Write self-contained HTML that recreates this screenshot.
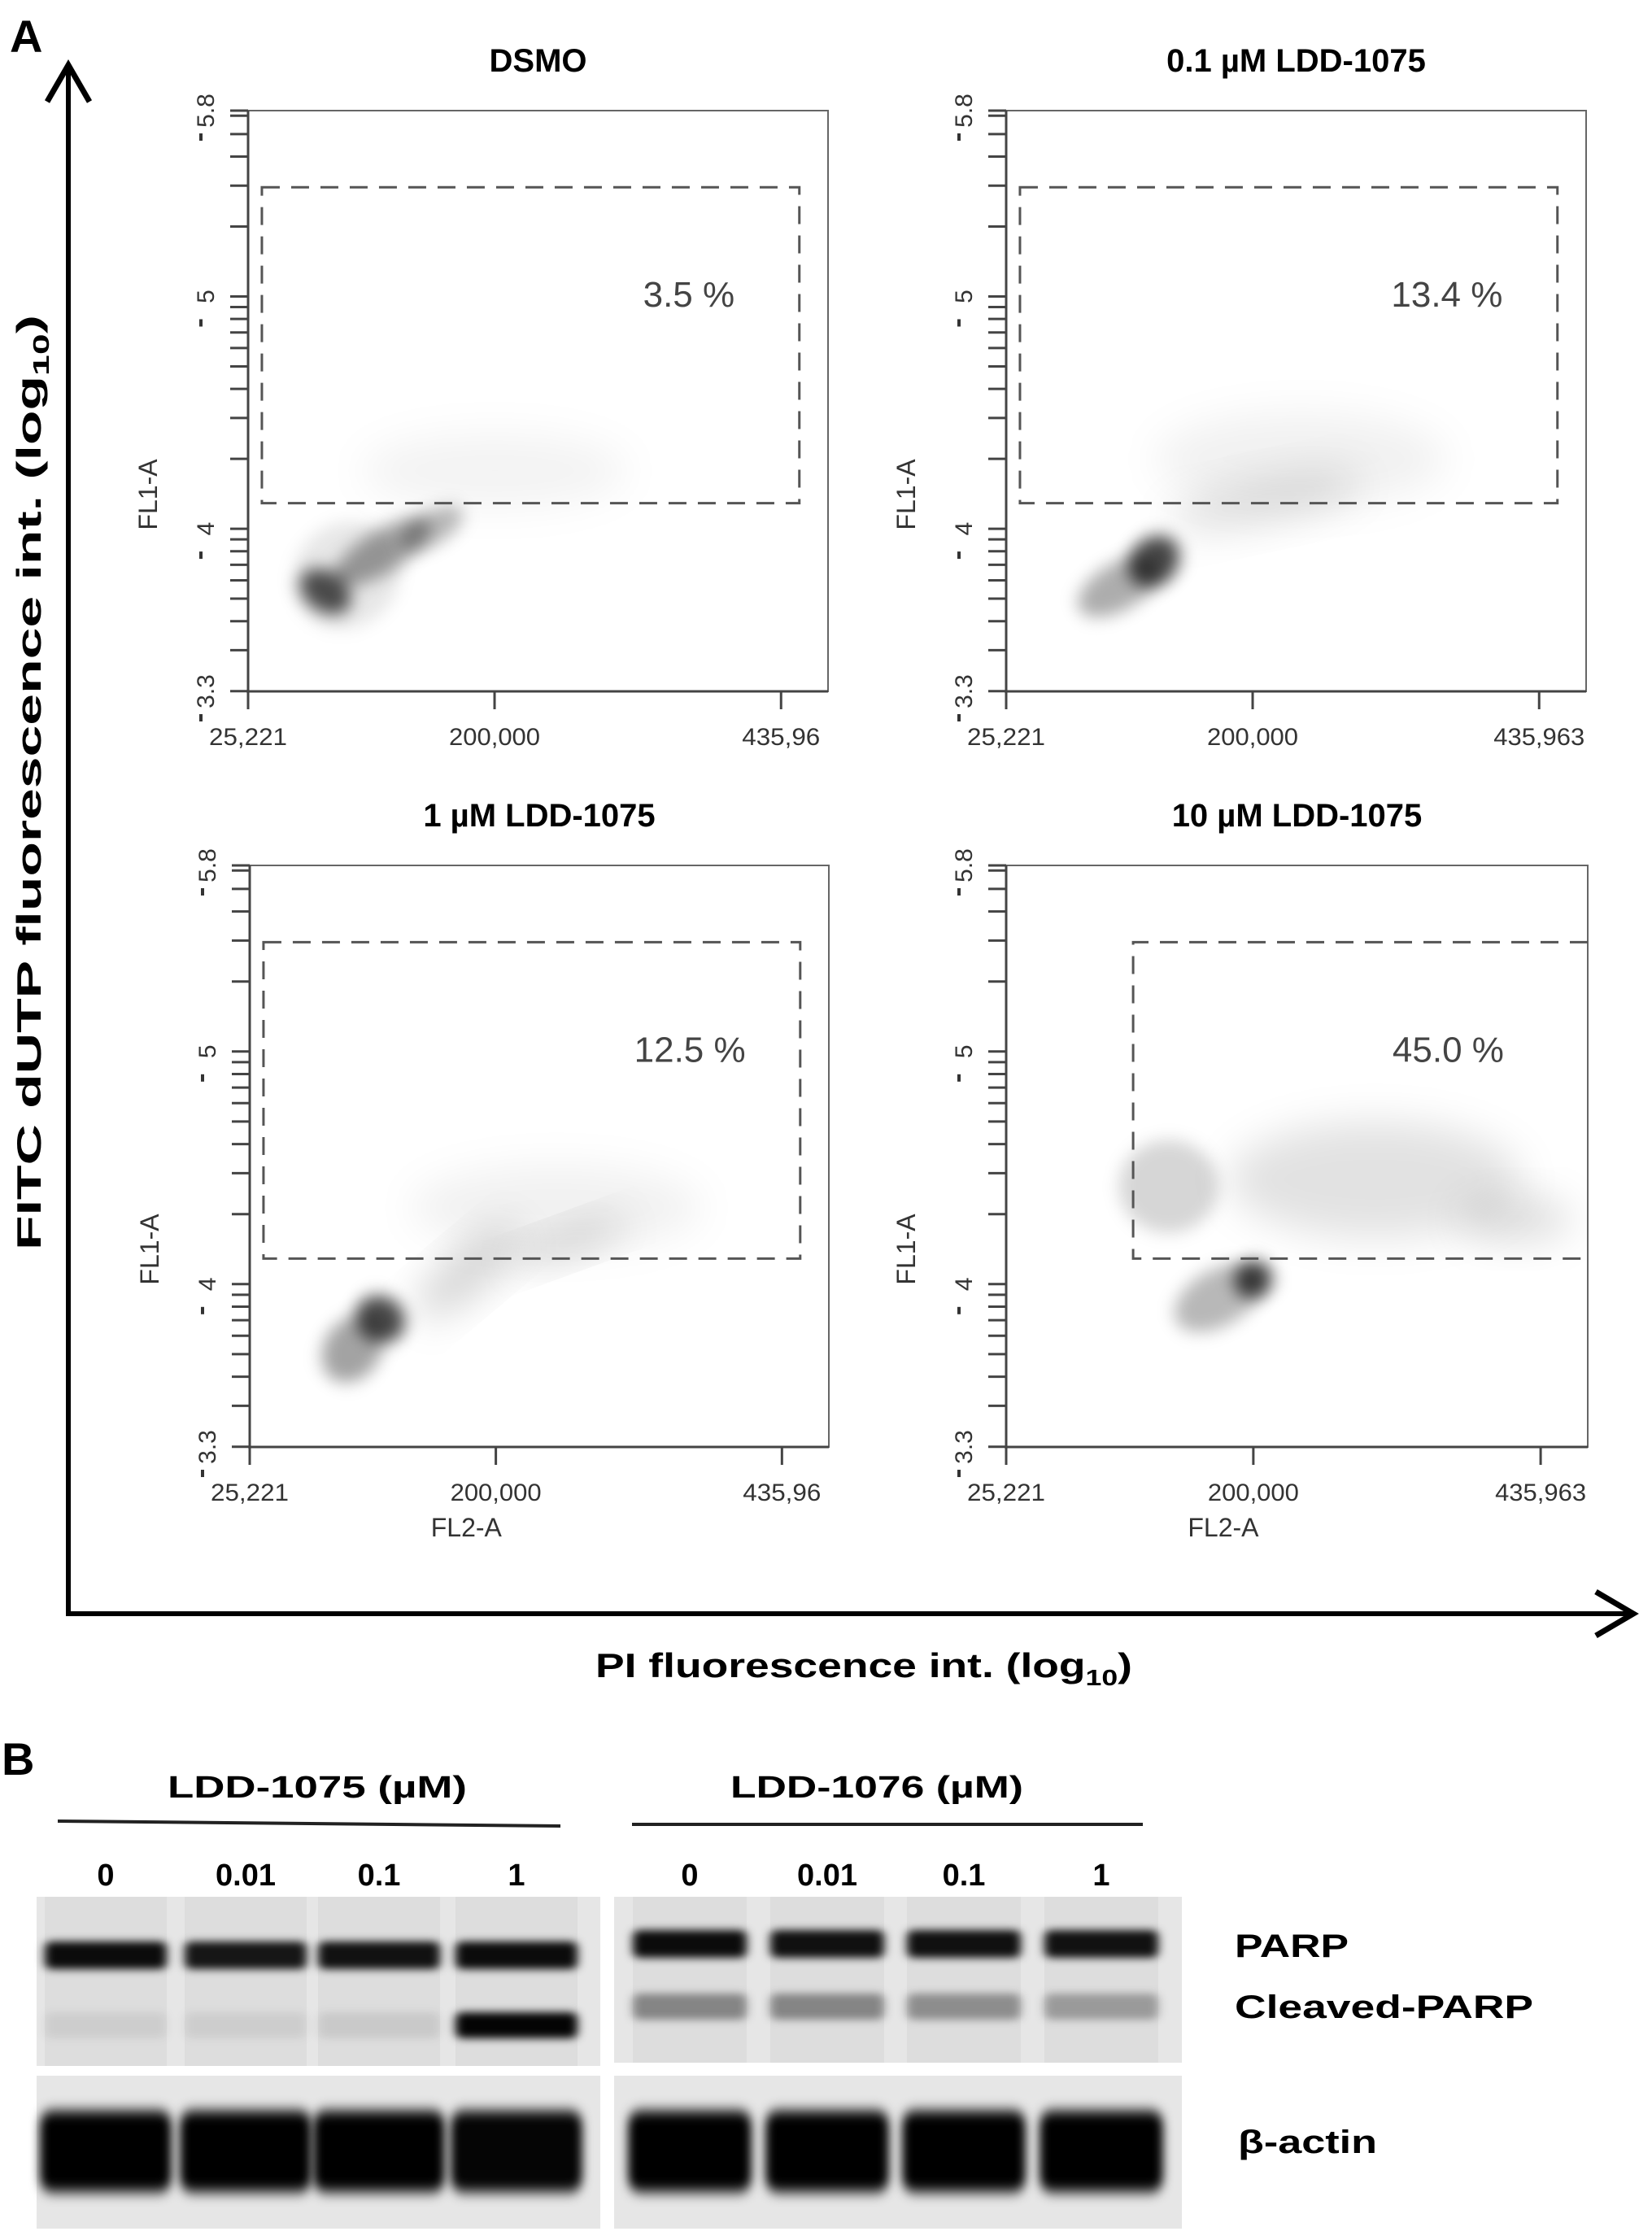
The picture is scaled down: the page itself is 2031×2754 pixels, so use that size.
<!DOCTYPE html>
<html><head><meta charset="utf-8">
<style>
html,body{margin:0;padding:0;background:#fff;}
svg{display:block;}
text{font-family:"Liberation Sans",sans-serif;}
</style></head>
<body>
<svg id="fig" width="2031" height="2754" viewBox="0 0 2031 2754" xmlns="http://www.w3.org/2000/svg">
<defs>
<filter id="blur8" x="-60%" y="-60%" width="220%" height="220%"><feGaussianBlur stdDeviation="10"/></filter>
<filter id="blur18" x="-60%" y="-60%" width="220%" height="220%"><feGaussianBlur stdDeviation="24"/></filter>
<filter id="bandblur" x="-30%" y="-100%" width="160%" height="300%"><feGaussianBlur stdDeviation="6 5"/></filter>
<filter id="bandblur2" x="-30%" y="-100%" width="160%" height="300%"><feGaussianBlur stdDeviation="6 8"/></filter>
</defs>
<g id="panelA">
<text x="12" y="64" font-size="56" font-weight="bold">A</text>
<line x1="84" y1="80" x2="84" y2="1984" stroke="#000" stroke-width="6"/>
<polyline points="58,125 84,80 110,125" fill="none" stroke="#000" stroke-width="7"/>
<line x1="81" y1="1984" x2="2008" y2="1984" stroke="#000" stroke-width="6"/>
<polyline points="1962,1957 2008,1984 1962,2011" fill="none" stroke="#000" stroke-width="7"/>
<text transform="translate(50,962) rotate(-90)" text-anchor="middle" font-size="42" font-weight="bold" textLength="1150" lengthAdjust="spacingAndGlyphs">FITC dUTP  fluorescence int.  (log<tspan font-size="28" dy="10">10</tspan><tspan dy="-10">)</tspan></text>
<text x="1062" y="2062" text-anchor="middle" font-size="42" font-weight="bold" textLength="660" lengthAdjust="spacingAndGlyphs">PI  fluorescence int. (log<tspan font-size="28" dy="10">10</tspan><tspan dy="-10">)</tspan></text>
<g id="plots"></g>
</g>
<g id="panelB">
<text x="2" y="2182" font-size="56" font-weight="bold">B</text>
<text x="390" y="2210" text-anchor="middle" font-size="38" font-weight="bold" textLength="368" lengthAdjust="spacingAndGlyphs">LDD-1075 (µM)</text>
<text x="1078" y="2210" text-anchor="middle" font-size="38" font-weight="bold" textLength="360" lengthAdjust="spacingAndGlyphs">LDD-1076 (µM)</text>
<line x1="71" y1="2239" x2="689" y2="2245" stroke="#222" stroke-width="4"/>
<line x1="777" y1="2243" x2="1405" y2="2243" stroke="#222" stroke-width="4"/>
<text x="1518" y="2406" font-size="40" font-weight="bold" textLength="140" lengthAdjust="spacingAndGlyphs">PARP</text>
<text x="1518" y="2481" font-size="40" font-weight="bold" textLength="367" lengthAdjust="spacingAndGlyphs">Cleaved-PARP</text>
<text x="1522" y="2647" font-size="40" font-weight="bold" textLength="171" lengthAdjust="spacingAndGlyphs">β-actin</text>
<g id="blot"></g>
</g>
</svg>
<script>
// ---------- Flow cytometry data ----------
const plotTitles = ["DSMO", "0.1 µM LDD-1075", "1 µM LDD-1075", "10 µM LDD-1075"];
const gatePercents = ["3.5 %", "13.4 %", "12.5 %", "45.0 %"];
const xTickValues = [25221, 200000, 435963];
const xTickLabelsTop = ["25,221", "200,000", "435,96"];
const xTickLabelsRight = ["25,221", "200,000", "435,963"];
const yTickValues = [3.3, 4, 5, 5.8];
const yTickLabels = ["3.3", "4", "5", "5.8"];
const xDomainMax = 472000;
const yDomain = [3.3, 5.8];
// gate: [xMin, yMin, xMax, yMax]
const gateDSMO = [35000, 4.11, 450000, 5.47];
const gate01 = [35000, 4.11, 450000, 5.47];
const gate1 = [35000, 4.11, 450000, 5.47];
const gate10 = [115000, 4.11, 472000, 5.47];
// density blobs: [x, log y, x spread, log-y spread, angle, density]
const blobsDSMO = [
 [95000, 3.8, 40000, 0.22, -45, 0.12],
 [200000, 4.25, 110000, 0.16, 0, 0.06],
 [120000, 3.9, 40000, 0.09, -32, 0.45],
 [155000, 4.0, 25000, 0.07, -30, 0.35],
 [80000, 3.73, 14000, 0.12, -55, 0.85]
];
const blobs01 = [
 [240000, 4.3, 120000, 0.2, 0, 0.07],
 [210000, 4.12, 80000, 0.1, -12, 0.14],
 [105000, 3.75, 32000, 0.1, -30, 0.4],
 [130000, 3.86, 20000, 0.10, -45, 0.9]
];
const blobs1 = [
 [250000, 4.33, 120000, 0.18, 0, 0.07],
 [260000, 4.18, 50000, 0.06, -20, 0.2],
 [180000, 4.05, 50000, 0.09, -40, 0.22],
 [98000, 3.72, 25000, 0.12, -55, 0.45],
 [118000, 3.85, 16000, 0.11, -55, 0.9]
];
const blobs10 = [
 [300000, 4.45, 120000, 0.25, 0, 0.14],
 [140000, 4.42, 35000, 0.2, 0, 0.2],
 [415000, 4.28, 45000, 0.1, 0, 0.16],
 [175000, 3.94, 35000, 0.12, -30, 0.35],
 [200000, 4.02, 16000, 0.08, -35, 0.9]
];
const plotFrames = [[305,136,1018,850],[1237,136,1950,850],[307,1064,1019,1779],[1237,1064,1952,1779]];
const gates = [gateDSMO, gate01, gate1, gate10];
const blobSets = [blobsDSMO, blobs01, blobs1, blobs10];

const NS = "http://www.w3.org/2000/svg";
function mk(tag, attrs, parent){ const e=document.createElementNS(NS,tag); for(const k in attrs) e.setAttribute(k,attrs[k]); if(parent) parent.appendChild(e); return e; }

const plotsG = document.getElementById('plots');
plotFrames.forEach((f, i) => {
  const [L,T,R,B] = f;
  const W = R-L, H = B-T;
  const knots = [[xTickValues[0],0],[xTickValues[1],0.425],[xTickValues[2],0.919],[xDomainMax,1]];
  function xs(v){
    for(let k=0;k<knots.length-1;k++){
      const a=knots[k], b=knots[k+1];
      if(v<=b[0] || k===knots.length-2){ return L + W*(a[1] + (v-a[0])/(b[0]-a[0])*(b[1]-a[1])); }
    }
  }
  function xsSpan(v, s){ return Math.abs(xs(v+s)-xs(v)); }
  function ys(v){ return B - (v-yDomain[0])/(yDomain[1]-yDomain[0])*H; }

  const g = mk('g',{},plotsG);
  
  

  const title = mk('text',{x:(L+R)/2, y:T-48, 'text-anchor':'middle','font-size':40,'font-weight':'bold'},g);
  
  
  title.textContent = plotTitles[i];

  const clip = mk('clipPath',{id:'clip'+i},g);
  mk('rect',{x:L,y:T,width:W,height:H},clip);
  const dg = mk('g',{'clip-path':'url(#clip'+i+')'},g);
  
  
  blobSets[i].forEach(b => {
    const cx = xs(b[0]), cy = ys(b[1]);
    const rx = xsSpan(b[0], b[2]), ry = b[3]/(yDomain[1]-yDomain[0])*H;
    const big = Math.max(rx,ry) > 70;
    const e = mk('ellipse',{cx:cx, cy:cy, rx:rx, ry:ry, fill:'#000', 'fill-opacity':b[5]*0.8,
      transform:'rotate('+b[4]+' '+cx+' '+cy+')', filter: big ? 'url(#blur18)' : 'url(#blur8)'}, dg);
    
    
  });

  const fr = mk('rect',{x:L,y:T,width:W,height:H,fill:'none',stroke:'#666','stroke-width':2},g);
  
  
  mk('line',{x1:L,y1:T,x2:L,y2:B+2,stroke:'#444','stroke-width':3},g);
  mk('line',{x1:L-2,y1:B,x2:R,y2:B,stroke:'#444','stroke-width':3},g);

  for(let d=3; d<=5; d++){
    for(let k=1;k<=9;k++){
      const v = d + Math.log10(k);
      if(v < yDomain[0]-0.001 || v > yDomain[1]+0.06) continue;
      const y = Math.max(ys(v), T);
      const t = mk('line',{x1:L-22,y1:y,x2:L,y2:y,stroke:'#444','stroke-width':3},g);
      
      
    }
  }
  yTickValues.forEach((v, j) => {
    const y = ys(v);
    const lab = mk('text',{transform:'translate('+(L-42)+','+y+') rotate(-90)','text-anchor':'middle','font-size':30,fill:'#333'},g);
    
    
    lab.textContent = yTickLabels[j];
    mk('rect',{x:L-60,y:y+28,width:4,height:9,fill:'#333'},g);
  });
  const fl1 = mk('text',{transform:'translate('+(L-112)+','+(T+472)+') rotate(-90)','text-anchor':'middle','font-size':32,fill:'#333'},g);
  
  
  fl1.textContent = 'FL1-A';

  const xl = i===0 || i===2 ? xTickLabelsTop : xTickLabelsRight;
  xTickValues.forEach((v, j) => {
    const x = xs(v);
    const t = mk('line',{x1:x,y1:B,x2:x,y2:B+22,stroke:'#444','stroke-width':3},g);
    
    
    const lab = mk('text',{x:x, y:B+66,'text-anchor':'middle','font-size':30,fill:'#333',textLength: xl[j].length*16,lengthAdjust:'spacingAndGlyphs'},g);
    
    
    lab.textContent = xl[j];
  });
  if(i>=2){
    const fl2 = mk('text',{x:(L+xs(xTickValues[1]))/2+115, y:B+110,'text-anchor':'middle','font-size':32,fill:'#333'},g);
    
    
    fl2.textContent = 'FL2-A';
  }

  const gt = gates[i];
  const gx1 = xs(gt[0]), gx2 = Math.min(xs(gt[2]), R), gy1 = ys(gt[3]), gy2 = ys(gt[1]);
  const gp = mk('path',{d: (i===3 ? 'M'+gx2+','+gy1+' L'+gx1+','+gy1+' L'+gx1+','+gy2+' L'+gx2+','+gy2
                                : 'M'+gx1+','+gy1+' L'+gx2+','+gy1+' L'+gx2+','+gy2+' L'+gx1+','+gy2+' Z'),
     fill:'none', stroke:'#555','stroke-width':3,'stroke-dasharray':'22 14'},g);
  
  
  const pct = mk('text',{x: L+W*0.76, y: gy1+147,'text-anchor':'middle','font-size':44,fill:'#444'},g);
  
  
  pct.textContent = gatePercents[i];
});

// ---------- Western blot data ----------
const laneLabels = ["0","0.01","0.1","1"];
const parp1075 = [0.95, 0.9, 0.92, 0.95];
const cleaved1075 = [0.07, 0.07, 0.09, 0.98];
const parp1076 = [0.95, 0.93, 0.93, 0.92];
const cleaved1076 = [0.4, 0.4, 0.36, 0.3];
const actin1075 = [1.0, 1.0, 1.0, 0.98];
const actin1076 = [1.0, 1.0, 1.0, 1.0];

const blot = document.getElementById('blot');
const groups = [
  {x0:45, x1:738, top:[2332,2540], bot:[2552,2740], lanes:[130,302,466,635], lw:150, parpY:2404, cleavedY:2490, parp:parp1075, cleaved:cleaved1075, actin:actin1075, name:'ldd-1075'},
  {x0:755, x1:1453, top:[2332,2536], bot:[2552,2740], lanes:[848,1017,1185,1354], lw:140, parpY:2390, cleavedY:2467, parp:parp1076, cleaved:cleaved1076, actin:actin1076, name:'ldd-1076'}
];
groups.forEach(gr => {
  const g = mk('g',{},blot);
  
  
  const r1 = mk('rect',{x:gr.x0,y:gr.top[0],width:gr.x1-gr.x0,height:gr.top[1]-gr.top[0],fill:'#e6e6e6'},g);
  
  
  const r2 = mk('rect',{x:gr.x0,y:gr.bot[0],width:gr.x1-gr.x0,height:gr.bot[1]-gr.bot[0],fill:'#e6e6e6'},g);
  
  
  gr.lanes.forEach((cx, j) => {
    const lab = mk('text',{x:cx, y:2318,'text-anchor':'middle','font-size':38,'font-weight':'bold'},g);
    
    
    lab.textContent = laneLabels[j];
    const ln = mk('rect',{x:cx-gr.lw/2,y:gr.top[0],width:gr.lw,height:gr.top[1]-gr.top[0],fill:'#000','fill-opacity':0.04},g);
    
    
    const pb = mk('rect',{x:cx-gr.lw/2,y:gr.parpY-17,width:gr.lw,height:34,rx:8,fill:'#000','fill-opacity':gr.parp[j],filter:'url(#bandblur)'},g);
    
    
    const cb = mk('rect',{x:cx-gr.lw/2,y:gr.cleavedY-16,width:gr.lw,height:32,rx:8,fill:'#000','fill-opacity':gr.cleaved[j],filter:'url(#bandblur)'},g);
    
    
    const ab = mk('rect',{x:cx-gr.lw/2-6,y:2595,width:gr.lw+12,height:100,rx:16,fill:'#000','fill-opacity':gr.actin[j],filter:'url(#bandblur2)'},g);
    
    
  });
});
</script>
</body></html>
